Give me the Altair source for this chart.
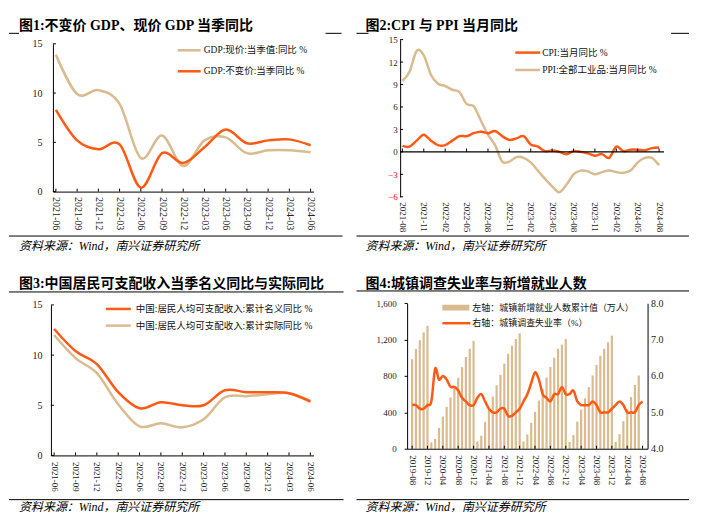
import json
import altair as alt
import pandas as pd

ORANGE = "#FF5A14"
TAN = "#D9BB8F"
FONT = "Liberation Serif, Noto Sans CJK SC"
INK = "#222222"

SOURCE = "资料来源：Wind，南兴证券研究所"

# ---------------- Panel 1 data ----------------
P1_TITLE = "图1:不变价 GDP、现价 GDP 当季同比"
P1_CATS = ["2021-06", "2021-09", "2021-12", "2022-03", "2022-06", "2022-09", "2022-12",
           "2023-03", "2023-06", "2023-09", "2023-12", "2024-03", "2024-06"]
P1_NOMINAL = [13.9, 9.9, 10.3, 8.9, 3.4, 5.7, 2.6, 5.2, 5.5, 3.9, 4.2, 4.2, 4.0]
P1_REAL = [8.3, 5.2, 4.3, 4.8, 0.4, 3.9, 2.9, 4.5, 6.3, 4.9, 5.2, 5.3, 4.7]
P1_LEG_NOMINAL = "GDP:现价:当季值:同比 %"
P1_LEG_REAL = "GDP:不变价:当季同比 %"
P1_YTICKS = [0, 5, 10, 15]

# ---------------- Panel 2 data ----------------
P2_TITLE = "图2:CPI 与 PPI 当月同比"
P2_CATS = ["2021-08", "2021-09", "2021-10", "2021-11", "2021-12",
           "2022-01", "2022-02", "2022-03", "2022-04", "2022-05", "2022-06",
           "2022-07", "2022-08", "2022-09", "2022-10", "2022-11", "2022-12",
           "2023-01", "2023-02", "2023-03", "2023-04", "2023-05", "2023-06",
           "2023-07", "2023-08", "2023-09", "2023-10", "2023-11", "2023-12",
           "2024-01", "2024-02", "2024-03", "2024-04", "2024-05", "2024-06",
           "2024-07", "2024-08"]
P2_CPI = [0.8, 0.7, 1.5, 2.3, 1.5,
          0.9, 0.9, 1.5, 2.1, 2.1, 2.5, 2.7, 2.5, 2.8, 2.1, 1.6, 1.8,
          2.1, 1.0, 0.7, 0.1, 0.2, 0.0, -0.3, 0.1, 0.0, -0.2, -0.5, -0.3,
          -0.8, 0.7, 0.1, 0.3, 0.3, 0.2, 0.5, 0.6]
P2_PPI = [9.5, 10.7, 13.5, 12.9, 10.3,
          9.1, 8.8, 8.3, 8.0, 6.4, 6.1, 4.2, 2.3, 0.9, -1.3, -1.3, -0.7,
          -0.8, -1.4, -2.5, -3.6, -4.6, -5.4, -4.4, -3.0, -2.5, -2.6, -3.0, -2.7,
          -2.5, -2.7, -2.8, -2.5, -1.4, -0.8, -0.8, -1.8]
P2_XTICKS = ["2021-08", "2021-11", "2022-02", "2022-05", "2022-08", "2022-11", "2023-02",
             "2023-05", "2023-08", "2023-11", "2024-02", "2024-05", "2024-08"]
P2_YTICKS = [-6, -3, 0, 3, 6, 9, 12, 15]
P2_LEG_CPI = "CPI:当月同比 %"
P2_LEG_PPI = "PPI:全部工业品:当月同比 %"

# ---------------- Panel 3 data ----------------
P3_TITLE = "图3:中国居民可支配收入当季名义同比与实际同比"
P3_CATS = P1_CATS
P3_NOMINAL = [12.6, 10.4, 9.1, 6.3, 4.7, 5.3, 5.0, 5.0, 6.5, 6.3, 6.3, 6.2, 5.4]
P3_REAL = [12.0, 9.7, 8.2, 5.1, 2.9, 3.2, 2.8, 3.6, 5.8, 5.9, 6.1, 6.2, 5.3]
P3_LEG_NOMINAL = "中国:居民人均可支配收入:累计名义同比 %"
P3_LEG_REAL = "中国:居民人均可支配收入:累计实际同比 %"
P3_YTICKS = [0, 5, 10, 15]

# ---------------- Panel 4 data ----------------
P4_TITLE = "图4:城镇调查失业率与新增就业人数"
P4_MONTHS = [str(p) for p in pd.period_range("2019-08", "2024-08", freq="M")]
P4_EMPLOY = [984, 1097, 1193, 1279, 1352,
             70, 108, 229, 354, 460, 564, 671, 781, 898, 1009, 1099, 1186,
             80, 142, 297, 437, 574, 698, 812, 936, 1045, 1133, 1207, 1269,
             80, 157, 285, 406, 529, 654, 783, 898, 1001, 1099, 1145, 1206,
             75, 151, 297, 431, 555, 678, 806, 921, 1022, 1100, 1172, 1244,
             75, 160, 303, 437, 569, 703, 806, None]
P4_UNEMP = [5.2, 5.2, 5.1, 5.1, 5.2,
            5.3, 6.2, 5.9, 6.0, 5.9, 5.7, 5.7, 5.6, 5.4, 5.3, 5.2, 5.2,
            5.4, 5.5, 5.3, 5.1, 5.0, 5.0, 5.1, 5.1, 4.9, 4.9, 5.0, 5.1,
            5.3, 5.5, 5.8, 6.1, 5.9, 5.5, 5.4, 5.3, 5.5, 5.5, 5.7, 5.5,
            5.5, 5.6, 5.3, 5.2, 5.2, 5.2, 5.3, 5.2, 5.0, 5.0, 5.0, 5.1,
            5.2, 5.3, 5.2, 5.0, 5.0, 5.0, 5.2, 5.3]
P4_XTICKS = list(range(0, 61, 4))
P4_YL_TICKS = [0, 400, 800, 1200, 1600]
P4_YR_TICKS = [4, 5, 6, 7, 8]
P4_LEG_BAR = "左轴：城镇新增就业人数累计值（万人）"
P4_LEG_LINE = "右轴：城镇调查失业率（%）"

ONE = pd.DataFrame({"k": [1]})


def text(s, x, y, size, weight="normal", style="normal", baseline="alphabetic", color="black"):
    return alt.Chart(ONE).mark_text(
        text=s, font=FONT, fontSize=size, fontWeight=weight, fontStyle=style,
        align="left", baseline=baseline, color=color
    ).encode(x=alt.value(x), y=alt.value(y))


def hrule(x1, x2, y, color="black", width=1.0):
    return alt.Chart(ONE).mark_rule(color=color, strokeWidth=width).encode(
        x=alt.value(x1), x2=alt.value(x2), y=alt.value(y))


def frame(title, title_xy, top_rules, bottom_rule, source_xy):
    layers = [text(title, title_xy[0], title_xy[1], 14, weight="bold")]
    for (a, b, y) in top_rules:
        layers.append(hrule(a, b, y))
    layers.append(hrule(*bottom_rule))
    layers.append(text(SOURCE, source_xy[0], source_xy[1], 12, style="italic"))
    return layers


def line_panel(cats, series, legend, W, H, xr, xpad, ydom, yr, yticks, xticks,
               xlab, ylab, xlab_pad, ylab_pad, yaxis_x, zero_line=False, ylabel_color=INK):
    xs = alt.Scale(type="point", domain=cats, range=xr, padding=xpad)
    ys = alt.Scale(domain=ydom, range=yr, nice=False, zero=False)
    xaxis = alt.Axis(values=xticks, labelAngle=90, labelFont=FONT, labelFontSize=xlab,
                     labelColor=INK, labelPadding=xlab_pad, ticks=False,
                     domain=not zero_line, domainColor="black", domainWidth=1,
                     offset=yr[0] - H, grid=False, zindex=1, labelOverlap=False,
                     labelFlush=False)
    yaxis = alt.Axis(values=yticks, labelFont=FONT, labelFontSize=ylab,
                     labelColor=ylabel_color, labelPadding=ylab_pad, ticks=False,
                     domain=True, domainColor="black", domainWidth=1,
                     offset=-yaxis_x, grid=False, zindex=1, labelOverlap=False,
                     labelFlush=False)
    layers = []
    for vals, color in series:
        df = pd.DataFrame({"d": cats, "v": vals})
        layers.append(
            alt.Chart(df).mark_line(color=color, strokeWidth=2.5, interpolate="cardinal").encode(
                x=alt.X("d:O", scale=xs, axis=xaxis, title=None, sort=None),
                y=alt.Y("v:Q", scale=ys, axis=yaxis, title=None))
        )
    # y ticks (inward)
    dfy = pd.DataFrame({"t": yticks})
    layers.append(alt.Chart(dfy).mark_rule(color="black", strokeWidth=1).encode(
        y=alt.Y("t:Q", scale=ys, axis=yaxis, title=None),
        x=alt.value(yaxis_x), x2=alt.value(yaxis_x + 3)))
    # x ticks (inward)
    if zero_line:
        dfz = pd.DataFrame({"z": [0]})
        layers.append(alt.Chart(dfz).mark_rule(color="black", strokeWidth=1.2).encode(
            y=alt.Y("z:Q", scale=ys, axis=yaxis, title=None),
            x=alt.value(yaxis_x), x2=alt.value(xr[1] + 1.3)))
        dfx = pd.DataFrame({"d": xticks, "a": [0] * len(xticks), "b": [0.45] * len(xticks)})
        layers.append(alt.Chart(dfx).mark_rule(color="black", strokeWidth=1).encode(
            x=alt.X("d:O", scale=xs, axis=xaxis, title=None, sort=None),
            y=alt.Y("a:Q", scale=ys, axis=yaxis, title=None),
            y2=alt.Y2("b")))
    else:
        dfx = pd.DataFrame({"d": xticks})
        layers.append(alt.Chart(dfx).mark_rule(color="black", strokeWidth=1).encode(
            x=alt.X("d:O", scale=xs, axis=xaxis, title=None, sort=None),
            y=alt.value(yr[0]), y2=alt.value(yr[0] - 3)))
    # legend
    for (label, color, x1, x2, y, tx) in legend:
        layers.append(hrule(x1, x2, y, color=color, width=2.5))
        layers.append(text(label, tx, y, 9.5, baseline="middle", color="#111111"))
    return layers


# ---------------- Panel 1 ----------------
W1, H1 = 344, 252
p1_layers = frame(P1_TITLE, (10, 22), [(0, 10, 25), (317, 333, 25)], (0, 334, 228), (10, 242))
p1_layers += line_panel(
    P1_CATS, [(P1_NOMINAL, TAN), (P1_REAL, ORANGE)],
    [(P1_LEG_NOMINAL, TAN, 169, 192, 42, 195), (P1_LEG_REAL, ORANGE, 169, 192, 63, 195)],
    W1, H1, [44, 305], 0.14, [0, 15], [183.5, 35.5], P1_YTICKS, P1_CATS,
    10, 10, 5, 11, 44)
p1 = alt.layer(*p1_layers).properties(width=W1, height=H1)

# ---------------- Panel 2 ----------------
W2, H2 = 345, 252
p2_layers = frame(P2_TITLE, (13, 22), [(4, 16, 25), (319, 337, 25)], (4, 337, 228), (13, 242))
p2_layers += line_panel(
    P2_CATS, [(P2_PPI, TAN), (P2_CPI, ORANGE)],
    [(P2_LEG_CPI, ORANGE, 163, 188, 44.3, 190), (P2_LEG_PPI, TAN, 163, 188, 61.7, 190)],
    W2, H2, [46.4, 310.6], 0.5, [-6, 15], [188.7, 31.3], P2_YTICKS, P2_XTICKS,
    9, 9, 5, 3, 47.7, zero_line=True,
    ylabel_color={"expr": "datum.value < 0 ? '#FF0000' : '#222222'"})
p2 = alt.layer(*p2_layers).properties(width=W2, height=H2)

# ---------------- Panel 3 ----------------
W3, H3 = 344, 256
p3_layers = frame(P3_TITLE, (10, 28), [(0, 335, 32)], (0, 335, 240), (10, 251))
p3_layers += line_panel(
    P3_CATS, [(P3_REAL, TAN), (P3_NOMINAL, ORANGE)],
    [(P3_LEG_NOMINAL, ORANGE, 97, 122, 49, 127), (P3_LEG_REAL, TAN, 97, 122, 65.7, 127)],
    W3, H3, [42, 305], 0.15, [0, 15], [195.7, 45], P3_YTICKS, P3_CATS,
    9, 10, 6, 9, 42)
p3 = alt.layer(*p3_layers).properties(width=W3, height=H3)

# ---------------- Panel 4 ----------------
W4, H4 = 345, 256
X0, X1, YB, YT = 54.7, 295.5, 189, 43.3
df4 = pd.DataFrame({"i": list(range(len(P4_MONTHS))), "emp": P4_EMPLOY, "u": P4_UNEMP})
xs4 = alt.Scale(domain=[0, 60], range=[X0, X1], nice=False, zero=False)
ysL = alt.Scale(domain=[0, 1600], range=[YB, YT], nice=False, zero=False)
ysR = alt.Scale(domain=[4, 8], range=[YB, YT], nice=False, zero=False)
label_expr = json.dumps(P4_MONTHS) + "[datum.value]"
xaxis4 = alt.Axis(values=P4_XTICKS, labelExpr=label_expr, labelAngle=90, labelFont=FONT,
                  labelFontSize=9, labelColor=INK, labelPadding=6, ticks=False,
                  domain=True, domainColor="black", domainWidth=1, offset=YB - H4,
                  grid=False, zindex=1, labelOverlap=False, labelFlush=False)
yaxisL = alt.Axis(orient="left", values=P4_YL_TICKS, format=",.0f", labelFont=FONT,
                  labelFontSize=9, labelColor=INK, labelPadding=8, ticks=True, tickSize=3,
                  tickColor="black", domain=True, domainColor="black", domainWidth=1,
                  offset=-X0, grid=False, zindex=1, labelOverlap=False, labelFlush=False)
yaxisR = alt.Axis(orient="right", values=P4_YR_TICKS, format=".1f", labelFont=FONT,
                  labelFontSize=10, labelColor=INK, labelPadding=3, ticks=False,
                  domain=True, domainColor="black", domainWidth=1,
                  offset=X1 - W4, grid=False, zindex=1, labelOverlap=False, labelFlush=False)
bars = alt.Chart(df4).mark_bar(color=TAN, size=2.2).encode(
    x=alt.X("i:Q", scale=xs4, axis=xaxis4, title=None),
    y=alt.Y("emp:Q", scale=ysL, axis=yaxisL, title=None))
uline = alt.Chart(df4).mark_line(color=ORANGE, strokeWidth=2.5, interpolate="cardinal").encode(
    x=alt.X("i:Q", scale=xs4, axis=xaxis4, title=None),
    y=alt.Y("u:Q", scale=ysR, axis=yaxisR, title=None))
dfx4 = pd.DataFrame({"i": P4_XTICKS})
xt4 = alt.Chart(dfx4).mark_rule(color="black", strokeWidth=1).encode(
    x=alt.X("i:Q", scale=xs4, axis=xaxis4, title=None),
    y=alt.value(YB), y2=alt.value(YB - 3))
leg_rect = alt.Chart(ONE).mark_rect(color=TAN).encode(
    x=alt.value(90), x2=alt.value(117), y=alt.value(44.8), y2=alt.value(50.6))
p4_layers = [bars, uline, xt4, leg_rect,
             text(P4_LEG_BAR, 120, 47.7, 9, baseline="middle", color="#111111"),
             hrule(90, 118, 63.3, color=ORANGE, width=2.5),
             text(P4_LEG_LINE, 120, 63.3, 9, baseline="middle", color="#111111")]
p4_layers += frame(P4_TITLE, (13, 28), [(4, 337, 31)], (4, 337, 240), (13, 251))
p4 = alt.layer(*p4_layers).resolve_scale(y="independent").properties(width=W4, height=H4)

chart = alt.vconcat(
    alt.hconcat(p1, p2, spacing=0),
    alt.hconcat(p3, p4, spacing=0),
    spacing=0,
).properties(padding=0).configure_view(strokeWidth=0).configure_axis(grid=False)

chart.save("out.html", embed_options={"renderer": "svg", "actions": False})
